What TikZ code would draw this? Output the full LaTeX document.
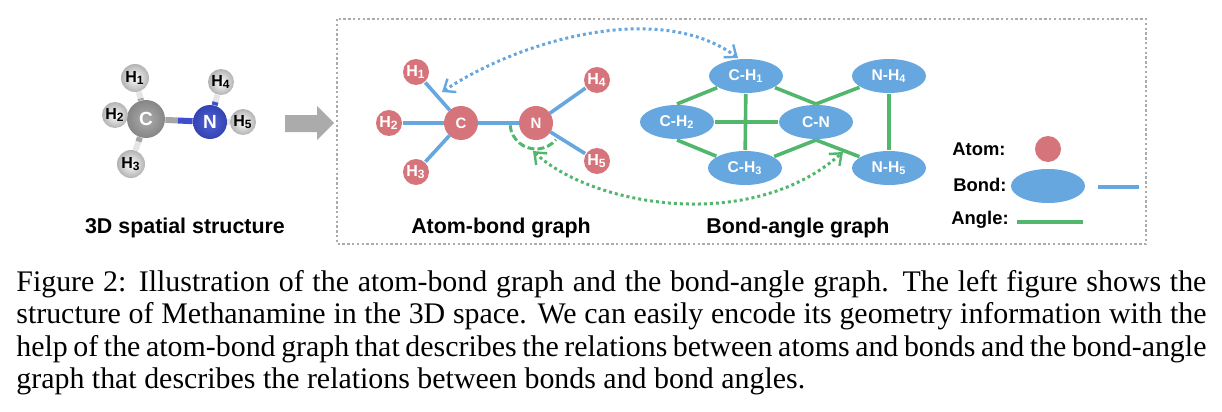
\documentclass[tikz,border=0pt]{standalone}
\usepackage{fontspec}
\setmainfont{Liberation Serif}
\setsansfont{Liberation Sans}
\usetikzlibrary{shapes.geometric,arrows.meta,backgrounds,calc}
\definecolor{atomred}{HTML}{D5747A}
\definecolor{bondblue}{HTML}{66A7E0}
\definecolor{anglegreen}{HTML}{52B76C}
\definecolor{framegray}{HTML}{ABABAB}
\definecolor{nblue}{HTML}{3D4FD0}
\tikzset{
  atom/.style={circle,fill=atomred,text=white,inner sep=0pt,minimum size=13pt,outer sep=.5pt,font=\sffamily\bfseries\fontsize{8}{9}\selectfont},
  bigatom/.style={atom,minimum size=17pt,outer sep=0pt,font=\sffamily\bfseries\fontsize{7.5}{9}\selectfont},
  bond/.style={ellipse,fill=bondblue,text=white,inner sep=0pt,minimum width=37pt,minimum height=17pt,outer sep=.5pt,font=\sffamily\bfseries\fontsize{7.8}{9}\selectfont},
  bondline/.style={bondblue,line width=1.8pt},
  angleline/.style={anglegreen,line width=1.8pt},
  hball/.style={circle,inner color=white,outer color=gray!60,inner sep=0pt,font=\sffamily\bfseries\fontsize{8}{9}\selectfont},
  heavyball/.style={circle,text=white,inner sep=0pt,font=\sffamily\bfseries\fontsize{9.5}{10}\selectfont},
  stick/.style={line width=3pt},
  title/.style={font=\sffamily\bfseries\fontsize{10.7}{12}\selectfont},
  legend/.style={font=\sffamily\bfseries\fontsize{9.2}{10}\selectfont},
  dotline/.style={line width=1.5pt,dash pattern=on 1.5pt off 1.5pt},
  barb/.style={{Straight Barb[length=5pt,width=8pt,line width=1.2pt]}-{Straight Barb[length=5pt,width=8pt,line width=1.2pt]}},
}
\begin{document}
\begin{tikzpicture}[x=0.5pt,y=-0.5pt]
\useasboundingbox (0,0) rectangle (1222,412);

% frame and big arrow
\draw [framegray,line width=1.2pt,dash pattern=on 1.2pt off 1.2pt] (337,19) rectangle (1146,244);
\fill [framegray] (285,115) -- (317,115) -- (317,106) -- (334,123) -- (317,140) -- (317,132) -- (285,132) -- cycle;

% 3D structure
\node [heavyball,inner color=gray!65,outer color=gray!95,minimum size=19pt] (mc) at (146,119) {C};
\node [heavyball,inner color=nblue!90!white,outer color=nblue!85!black,minimum size=17pt] (mn) at (210,122) {N};
\node [hball,minimum size=14pt] (mh1) at (135,78) {H\textsubscript{1}};
\node [hball,minimum size=13pt] (mh2) at (115,115) {H\textsubscript{2}};
\node [hball,minimum size=14pt] (mh3) at (131,164) {H\textsubscript{3}};
\node [hball,minimum size=13pt] (mh4) at (221,82) {H\textsubscript{4}};
\node [hball,minimum size=13pt] (mh5) at (243,122) {H\textsubscript{5}};
\begin{scope}[on background layer]
\draw [stick,gray!20] (mc) -- (mh1);
\draw [stick,gray!20] (mc) -- (mh2);
\draw [stick,gray!20] (mc) -- (mh3);
\draw [stick,gray!20] (mn) -- (mh4);
\draw [stick,gray!20] (mn) -- (mh5);
\draw [stick,gray!70] (mc) -- ($(mc)!.5!(mh1)$);
\draw [stick,gray!70] (mc) -- ($(mc)!.5!(mh3)$);
\draw [stick,gray!70] (mc) -- ($(mc)!.5!(mn)$);
\draw [stick,nblue] (mn) -- ($(mn)!.5!(mc)$);
\draw [stick,nblue] (mn) -- ($(mn)!.5!(mh4)$);
\end{scope}
\node [title] (t3d) at (185,228) {3D spatial structure};

% atom-bond graph
\node [bigatom] (c) at (461,123) {C};
\node [bigatom] (n) at (536,123) {N};
\node [atom] (h1) at (416,72) {H\textsubscript{1}};
\node [atom] (h2) at (389,123) {H\textsubscript{2}};
\node [atom] (h3) at (416,172) {H\textsubscript{3}};
\node [atom] (h4) at (597,80) {H\textsubscript{4}};
\node [atom] (h5) at (597,161) {H\textsubscript{5}};
\draw [bondline] (c) -- (h1);
\draw [bondline] (c) -- (h2);
\draw [bondline] (c) -- (h3);
\draw [bondline] (c) -- (n);
\draw [bondline] (n) -- (h4);
\draw [bondline] (n) -- (h5);
\draw [anglegreen,line width=1.5pt,dash pattern=on 3.5pt off 1.5pt] (n) ++(175:26) arc [start angle=175,end angle=40,radius=26];
\node [title] (tab) at (501,228) {Atom-bond graph};

% bond-angle graph
\node [bond] (ch1) at (746,76) {C-H\textsubscript{1}};
\node [bond] (ch2) at (677,122) {C-H\textsubscript{2}};
\node [bond] (cn) at (816,122) {C-N};
\node [bond] (ch3) at (745,168) {C-H\textsubscript{3}};
\node [bond] (nh4) at (889,76) {N-H\textsubscript{4}};
\node [bond] (nh5) at (889,168) {N-H\textsubscript{5}};
\draw [angleline] (ch1) -- (ch2.north);
\draw [angleline] (ch1) -- (cn.north);
\draw [angleline] (nh4) -- (cn.north);
\draw [angleline] (ch2.south) -- (ch3);
\draw [angleline] (ch3) -- (cn.south);
\draw [angleline] (cn.south) -- (nh5);
\draw [angleline] (ch1) -- (ch3);
\draw [angleline] (ch2) -- (cn);
\draw [angleline] (nh4) -- (nh5);
\node [title] (tba) at (798,228) {Bond-angle graph};

% dotted arrows between the graphs
\coordinate (bluea) at (442,92);
\coordinate (blueb) at (738,58);
\coordinate (greena) at (533,151);
\coordinate (greenb) at (843,152);
\draw [bondblue,dotline,barb] (bluea) .. controls (520,40) and (660,0) .. (blueb);
\draw [anglegreen,dotline,barb] (greena) .. controls (590,205) and (750,235) .. (greenb);

% legend
\node [legend] (latom) at (979,149) {Atom:};
\node [atom] (katom) at (1048,149) {};
\node [legend] (lbond) at (980,185) {Bond:};
\node [bond] (kbond) at (1048,186) {};
\coordinate (kba) at (1098,187);
\coordinate (kbb) at (1139,187);
\draw [bondline] (kba) -- (kbb);
\node [legend] (langle) at (980,220) {Angle:};
\coordinate (kaa) at (1017,222);
\coordinate (kab) at (1083,222);
\draw [angleline] (kaa) -- (kab);

% caption
\node [anchor=north west,inner sep=0pt,text width=595pt,align=justify,font=\fontsize{14.95}{16.25}\selectfont] (capt) at (16,270)
  {Figure 2: Illustration of the atom-bond graph and the bond-angle graph. The left figure shows the structure of Methanamine in the 3D space. We can easily encode its geometry information with the help of the atom-bond graph that describes the relations between atoms and bonds and the bond-angle graph that describes the relations between bonds and bond angles.};
\end{tikzpicture}
\end{document}
